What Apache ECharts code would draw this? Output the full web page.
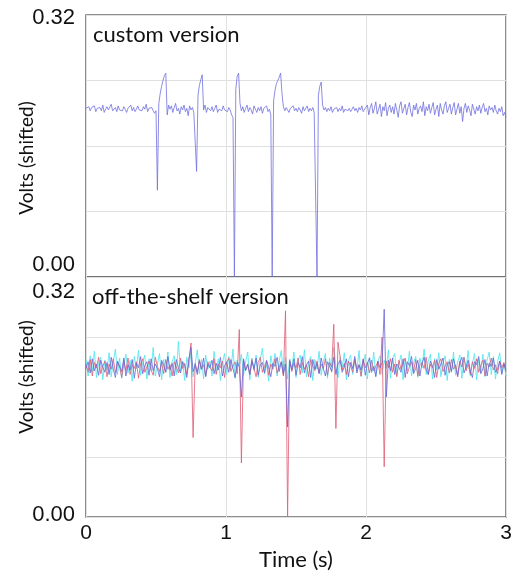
<!DOCTYPE html>
<html>
<head>
<meta charset="utf-8">
<script src="https://cdn.jsdelivr.net/npm/echarts@6/dist/echarts.min.js"></script>
<style>
  html, body { margin: 0; padding: 0; background: #fff; }
  #chart { width: 521px; height: 572px; }
</style>
</head>
<body>
<div id="chart"></div>
<script>
// time step between samples (s)
const customStep = 0.01;
const shelfStep = 0.015;

// custom version trace, mV (one sample every customStep)
const customMv = [
  206, 204, 208, 203, 207, 205, 209, 202, 206, 204,
  207, 203, 210, 201, 205, 208, 204, 206, 211, 203,
  205, 207, 202, 209, 204, 206, 203, 208, 205, 201,
  206, 204, 210, 203, 207, 202, 205, 209, 204, 206,
  203, 208, 205, 211, 202, 206, 204, 207, 203, 200,
  203, 106, 212, 224, 233, 240, 246, 249, 198, 210,
  205, 209, 201, 207, 212, 203, 206, 199, 208, 204,
  210, 202, 206, 197, 209, 204, 207, 201, 200, 129,
  222, 234, 241, 247, 204, 210, 201, 207, 205, 203,
  208, 202, 206, 210, 201, 205, 207, 203, 209, 204,
  206, 202, 207, 204, 198, 195, 0, 230, 245, 249,
  212, 203, 208, 201, 206, 210, 202, 207, 204, 199,
  209, 205, 201, 207, 203, 208, 200, 206, 204, 209,
  202, 205, 198, 0, 215, 228, 236, 240, 244, 249,
  224, 208, 203, 207, 205, 201, 206, 204, 209, 203,
  206, 202, 207, 204, 200, 208, 203, 205, 209, 202,
  206, 203, 207, 201, 200, 0, 222, 233, 238, 210,
  204, 207, 202, 206, 203, 208, 201, 205, 204, 207,
  202, 206, 203, 209, 201, 205, 207, 203, 206, 202,
  205, 208, 203, 206, 201, 207, 204, 209, 202, 205,
  203, 210, 198, 207, 212, 200, 206, 214, 199, 205,
  211, 196, 208, 203, 213, 197, 206, 210, 201, 208,
  199, 212, 204, 195, 209, 214, 200, 206, 211, 198,
  207, 213, 201, 196, 210, 204, 212, 199, 206, 209,
  202, 214, 197, 208, 203, 211, 200, 207, 213, 198,
  205, 210, 196, 212, 204, 199, 209, 214, 201, 206,
  211, 199, 207, 213, 198, 205, 212, 200, 208, 190,
  206, 212, 201, 209, 204, 197, 211, 205, 199, 208,
  203, 210, 200, 207, 212, 202, 206, 198, 209, 204,
  207, 201, 210, 203, 199, 206, 202, 208, 197, 201,
  195
];

// off-the-shelf version, three traces, mV (one sample every shelfStep)
const shelfCyanMv = [
  210, 188, 215, 194, 221, 186, 205, 213, 183, 209,
  196, 219, 187, 207, 224, 190, 212, 185, 203, 217,
  192, 209, 181, 214, 198, 222, 189, 206, 216, 184,
  211, 195, 226, 188, 204, 218, 183, 210, 193, 220,
  186, 207, 215, 190, 234, 194, 208, 182, 213, 199,
  219, 187, 205, 223, 191, 210, 184, 216, 197, 208,
  188, 221, 193, 211, 182, 206, 218, 190, 214, 196,
  224, 185, 209, 201, 217, 189, 207, 220, 183, 212,
  195, 216, 186, 210, 225, 191, 204, 181, 215, 200,
  218, 188, 208, 222, 190, 213, 184, 211, 197, 220,
  186, 209, 216, 192, 223, 187, 206, 214, 182, 210,
  197, 221, 189, 207, 218, 185, 212, 193, 226, 201,
  186, 214, 199, 219, 183, 208, 216, 190, 211, 195,
  222, 187, 205, 217, 184, 213, 192, 220, 188, 207,
  215, 191, 209, 198, 223, 185, 211, 218, 189, 204,
  216, 183, 210, 195, 221, 188, 206, 214, 186, 212,
  199, 224, 190, 208, 217, 184, 211, 196, 219, 187,
  206, 215, 182, 210, 193, 220, 189, 207, 216, 185,
  213, 198, 222, 188, 205, 218, 183, 211, 194, 217,
  187, 209, 220, 190, 214, 184, 207, 219, 192, 205,
  188
];
const shelfBlueMv = [
  198, 207, 192, 211, 195, 204, 189, 209, 200, 193,
  206, 190, 213, 197, 186, 208, 201, 194, 212, 188,
  203, 196, 210, 185, 205, 199, 214, 191, 202, 207,
  189, 211, 195, 204, 198, 187, 209, 202, 193, 214,
  196, 205, 188, 210, 199, 192, 207, 201, 186, 211,
  226, 194, 203, 190, 208, 197, 212, 187, 204, 199,
  209, 191, 205, 196, 213, 188, 202, 207, 193, 210,
  198, 186, 206, 200, 160, 211, 195, 204, 190, 208,
  197, 212, 189, 203, 206, 192, 209, 199, 187, 205,
  201, 213, 194, 207, 190, 204, 120, 208, 196, 211,
  189, 206, 199, 214, 192, 203, 208, 186, 210, 197,
  205, 191, 212, 198, 188, 207, 201, 194, 213, 190,
  204, 209, 193, 200, 211, 187, 206, 198, 214, 192,
  203, 196, 210, 189, 205, 212, 194, 201, 187, 208,
  199, 206, 277, 160, 209, 195, 212, 190, 204, 200,
  193, 211, 186, 207, 202, 214, 191, 198, 209, 188,
  205, 213, 196, 190, 208, 201, 186, 210, 197, 204,
  212, 189, 203, 207, 194, 211, 199, 187, 206, 213,
  192, 200, 209, 195, 186, 207, 203, 214, 191, 198,
  210, 188, 205, 201, 212, 193, 197, 208, 190, 204,
  196
];
const shelfRedMv = [
  203, 194, 210, 188, 206, 199, 213, 191, 201, 208,
  187, 204, 197, 211, 192, 206, 200, 186, 209, 195,
  212, 190, 203, 198, 207, 185, 204, 211, 193, 200,
  208, 196, 189, 213, 201, 194, 206, 191, 210, 197,
  203, 188, 207, 200, 192, 212, 198, 205, 190, 209,
  232, 106, 205, 193, 210, 197, 203, 188, 207, 200,
  195, 211, 190, 204, 199, 208, 186, 206, 212, 194,
  201, 207, 191, 250, 72, 209, 196, 203, 190, 210,
  198, 187, 206, 213, 193, 201, 208, 189, 204, 197,
  211, 192, 200, 207, 188, 275, 0, 209, 194, 205,
  199, 212, 190, 206, 197, 203, 187, 210, 201, 195,
  208, 192, 204, 198, 211, 189, 206, 200, 257, 118,
  233, 214, 196, 205, 190, 208, 201, 193, 210, 197,
  203, 188, 211, 199, 206, 192, 209, 195, 201, 207,
  190, 240, 67, 208, 199, 211, 193, 204, 187, 209,
  197, 205, 212, 191, 200, 207, 194, 210, 188, 203,
  206, 198, 213, 190, 204, 199, 209, 186, 205, 211,
  194, 201, 207, 192, 210, 197, 203, 189, 208, 200,
  213, 195, 204, 190, 207, 198, 211, 193, 202, 209,
  188, 205, 200, 212, 196, 203, 191, 208, 199, 206,
  193
];

const timeTicks = [0, 1, 2, 3];
const voltTicks = [0, 320];   // mV, printed as volts

function toPairs(values, step) {
    return values.map((v, i) => [+(i * step).toFixed(4), v]);
}

const chart = echarts.init(document.getElementById('chart'), null, { renderer: 'canvas' });

const tickFont = 'Liberation Sans, Arial, sans-serif';
const textFont = 'Lato, "Open Sans", sans-serif';

function yAxisFor(gridIndex, padTop, padBottom, namePad) {
    return {
        gridIndex: gridIndex,
        type: 'value',
        min: 0, max: 320, interval: 80,
        name: 'Volts (shifted)',
        nameLocation: 'middle',
        nameGap: 50,
        nameMoveOverlap: false,
        nameTextStyle: { fontFamily: textFont, fontSize: 19, color: '#111', padding: namePad },
        axisLine: { show: false },
        axisTick: { show: false },
        splitLine: { show: true, lineStyle: { color: '#e0e0e0', width: 1 } },
        axisLabel: {
            margin: 11,
            formatter: function (v) {
                if (v === voltTicks[0]) return '{lo|' + (v / 1000).toFixed(2) + '}';
                if (v === voltTicks[1]) return '{hi|' + (v / 1000).toFixed(2) + '}';
                return '';
            },
            rich: {
                lo: { fontFamily: tickFont, fontSize: 22, color: '#111', padding: padBottom },
                hi: { fontFamily: tickFont, fontSize: 22, color: '#111', padding: padTop }
            }
        }
    };
}

function xAxisFor(gridIndex, showLabels) {
    return {
        gridIndex: gridIndex,
        type: 'value',
        min: timeTicks[0], max: timeTicks[timeTicks.length - 1], interval: 1,
        name: showLabels ? 'Time (s)' : '',
        nameLocation: 'middle',
        nameGap: 32,
        nameMoveOverlap: false,
        nameTextStyle: { fontFamily: textFont, fontSize: 22, color: '#111' },
        axisLine: { show: false },
        axisTick: { show: false },
        splitLine: { show: true, lineStyle: { color: '#e0e0e0', width: 1 } },
        axisLabel: {
            show: showLabels,
            margin: 6,
            fontFamily: tickFont, fontSize: 21, color: '#111'
        }
    };
}

const lineBase = {
    type: 'line',
    showSymbol: false,
    symbol: 'none',
    silent: true,
    clip: true
};

const gridBase = {
    show: true,
    borderColor: '#6a6a6a',
    borderWidth: 1.5,
    backgroundColor: 'transparent',
    containLabel: false,
    outerBoundsMode: 'none'
};

const option = {
    animation: false,
    backgroundColor: '#fff',
    title: [
        { text: 'custom version', left: 93, top: 24, padding: 0,
          textStyle: { fontFamily: textFont, fontSize: 22, fontWeight: 'normal', color: '#111' } },
        { text: 'off-the-shelf version', left: 92, top: 286, padding: 0,
          textStyle: { fontFamily: textFont, fontSize: 22, fontWeight: 'normal', color: '#111' } }
    ],
    grid: [
        Object.assign({}, gridBase, { left: 86, top: 15, width: 420, height: 262 }),
        Object.assign({}, gridBase, { left: 86, top: 277, width: 420, height: 240 })
    ],
    xAxis: [xAxisFor(0, false), xAxisFor(1, true)],
    yAxis: [
        yAxisFor(0, [5, 0, 0, 0], [0, 0, 24, 0], [0, 24, 0, 0]),
        yAxisFor(1, [30, 0, 0, 0], [0, 0, 4, 0], [0, 0, 0, 40])
    ],
    series: [
        Object.assign({}, lineBase, {
            name: 'custom', xAxisIndex: 0, yAxisIndex: 0,
            data: toPairs(customMv, customStep),
            lineStyle: { color: '#7070e0', width: 0.8 }
        }),
        Object.assign({}, lineBase, {
            name: 'cyan', xAxisIndex: 1, yAxisIndex: 1,
            data: toPairs(shelfCyanMv, shelfStep),
            lineStyle: { color: '#5ae6ee', width: 0.9 }
        }),
        Object.assign({}, lineBase, {
            name: 'red', xAxisIndex: 1, yAxisIndex: 1,
            data: toPairs(shelfRedMv, shelfStep),
            lineStyle: { color: '#e05a72', width: 0.8 }
        }),
        Object.assign({}, lineBase, {
            name: 'blue', xAxisIndex: 1, yAxisIndex: 1,
            data: toPairs(shelfBlueMv, shelfStep),
            lineStyle: { color: '#6464d8', width: 0.8 }
        })
    ]
};

chart.setOption(option);
</script>
</body>
</html>
